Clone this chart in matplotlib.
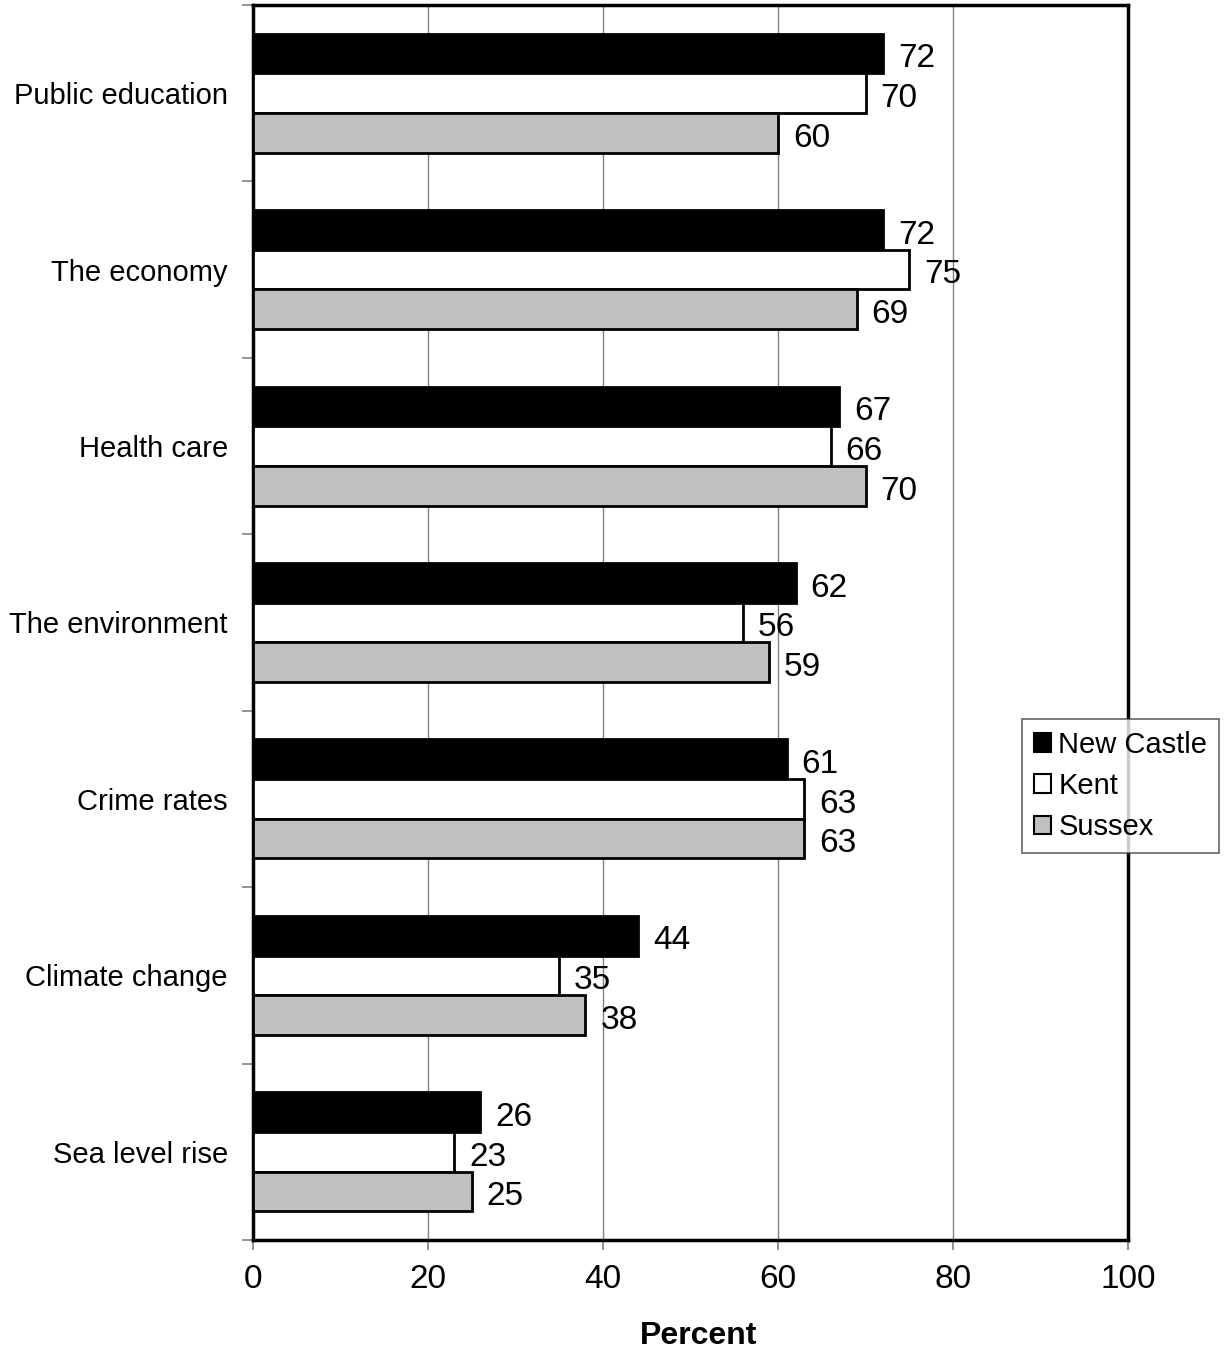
import matplotlib
matplotlib.use("Agg")
import matplotlib.pyplot as plt
import numpy as np
from matplotlib.patches import Patch

plt.rcParams['font.family'] = ['Liberation Sans', 'DejaVu Sans']

categories = ["Public education", "The economy", "Health care", "The environment",
              "Crime rates", "Climate change", "Sea level rise"]
series_names = ["New Castle", "Kent", "Sussex"]
new_castle = [72, 72, 67, 62, 61, 44, 26]
kent = [70, 75, 66, 56, 63, 35, 23]
sussex = [60, 69, 70, 59, 63, 38, 25]
x_ticks = [0, 20, 40, 60, 80, 100]

series_values = [new_castle, kent, sussex]
colors = ["#000000", "#ffffff", "#c0c0c0"]

fig = plt.figure(figsize=(12.28, 13.49), dpi=100)
ax = fig.add_axes([0.206, 0.0808, 0.7126, 0.9155])

n = len(categories)
bar_h = 0.225
idx = np.arange(n)
for s, (vals, col) in enumerate(zip(series_values, colors)):
    ypos = idx + (s - 1) * bar_h
    ax.barh(ypos, vals, height=bar_h, color=col, edgecolor="black",
            linewidth=2, zorder=3)
    for y, v in zip(ypos, vals):
        ax.text(v + 1.7, y + 0.03, f"{v}", va="center", ha="left",
                fontsize=24, zorder=4)

ax.set_ylim(n - 0.5, -0.5)
ax.set_xlim(0, 100)
ax.set_xticks(x_ticks)
ax.set_xticklabels([str(t) for t in x_ticks], fontsize=24)
ax.xaxis.grid(True, color="#808080", linewidth=1, zorder=0)

ax.set_yticks(np.arange(-0.5, n, 1.0))
ax.set_yticklabels([])
ax.set_yticks(idx, minor=True)
ax.set_yticklabels(categories, minor=True, fontsize=21)
ax.tick_params(axis="y", which="minor", length=0, pad=18)
ax.tick_params(axis="y", which="major", length=8, color="#808080", width=1.2)
ax.tick_params(axis="x", length=7, color="#808080", width=1.2, pad=10)

for sp in ax.spines.values():
    sp.set_linewidth(2.5)
    sp.set_color("black")

ax.set_xlabel("Percent", fontsize=23, fontweight="bold", labelpad=19, x=0.509)

handles = [Patch(facecolor=c, edgecolor="black", linewidth=1.5) for c in colors]
leg = fig.legend(handles, series_names, loc="center left",
                 bbox_to_anchor=(1022 / 1228, 1 - 786 / 1349),
                 fontsize=21, frameon=True, fancybox=False,
                 handlelength=0.6, handleheight=0.6, handletextpad=0.25,
                 labelspacing=0.45, borderpad=0.4, borderaxespad=0)
leg.get_frame().set_edgecolor("#404040")
leg.get_frame().set_linewidth(1.2)

fig.savefig("out.png", dpi=100)
